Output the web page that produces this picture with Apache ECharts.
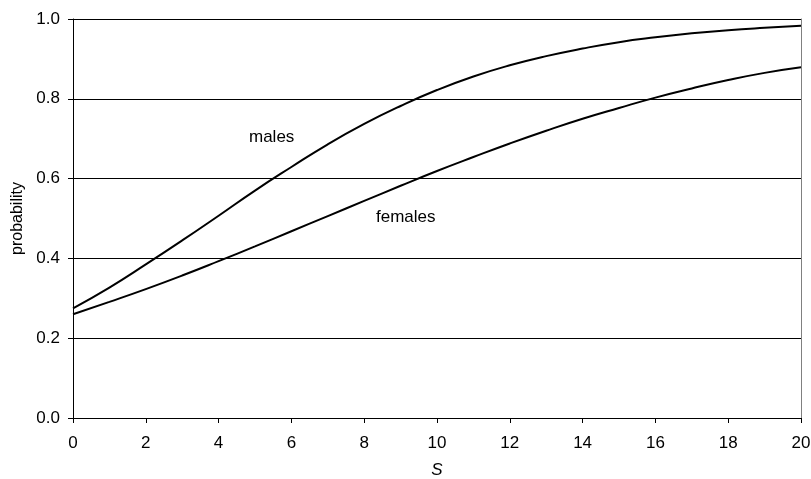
<!DOCTYPE html>
<html>
<head>
<meta charset="utf-8">
<script src="https://cdn.jsdelivr.net/npm/echarts@6/dist/echarts.min.js"></script>
<style>html,body{margin:0;padding:0;background:#fff}#c{width:811px;height:479px}</style>
</head>
<body>
<div id="c"></div>
<script>
var sValues = [0,1,2,3,4,5,6,7,8,9,10,11,12,13,14,15,16,17,18,19,20];
var males = [0.275,0.327,0.385,0.445,0.507,0.570,0.629,0.686,0.737,0.782,0.822,0.856,0.884,0.907,0.926,0.942,0.954,0.964,0.972,0.978,0.983];
var females = [0.260,0.291,0.323,0.357,0.393,0.430,0.468,0.506,0.544,0.582,0.619,0.654,0.688,0.720,0.750,0.777,0.803,0.826,0.847,0.865,0.879];
var xTicks = [0,2,4,6,8,10,12,14,16,18,20];
var yTicks = [0.0,0.2,0.4,0.6,0.8,1.0];

function pairs(ys){ return sValues.map(function(x,i){ return [x, ys[i]]; }); }

var chart = echarts.init(document.getElementById('c'), null, {renderer:'canvas'});
var font = 'Liberation Sans, Arial, sans-serif';
chart.setOption({
  animation:false,
  backgroundColor:'#fff',
  grid:{left:73, right:10, top:19, bottom:61, containLabel:false, outerBoundsMode:'none'},
  xAxis:{
    type:'value', min:xTicks[0], max:xTicks[xTicks.length-1], interval:2,
    name:'S', nameLocation:'middle', nameGap:44,
    nameTextStyle:{fontFamily:font, fontSize:17, fontStyle:'italic', color:'#000'},
    axisLine:{lineStyle:{color:'#000', width:1}},
    axisTick:{show:true, length:5, lineStyle:{color:'#000'}},
    axisLabel:{fontFamily:font, fontSize:17, color:'#000', margin:17},
    splitLine:{show:false}
  },
  yAxis:[{
    type:'value', min:yTicks[0], max:yTicks[yTicks.length-1], interval:0.2,
    name:'probability', nameLocation:'middle', nameGap:46,
    nameTextStyle:{fontFamily:font, fontSize:16, color:'#000'},
    axisLine:{show:true, lineStyle:{color:'#000', width:1}},
    axisTick:{show:true, length:5, lineStyle:{color:'#000'}},
    axisLabel:{fontFamily:font, fontSize:17, color:'#000', margin:13, formatter:function(v){return v.toFixed(1);}},
    splitLine:{show:true, lineStyle:{color:'#000', width:1}}
  },{
    type:'value', min:0, max:1, position:'right',
    axisLine:{show:true, lineStyle:{color:'#808080', width:1}},
    axisTick:{show:false}, axisLabel:{show:false}, splitLine:{show:false}
  }],
  series:[
    {type:'line', name:'males', data:pairs(males), smooth:true, showSymbol:false,
     lineStyle:{color:'#000', width:2}},
    {type:'line', name:'females', data:pairs(females), smooth:true, showSymbol:false,
     lineStyle:{color:'#000', width:2}}
  ],
  graphic:[
    {type:'text', left:249, top:129, style:{text:'males', fontFamily:font, fontSize:17, fill:'#000'}},
    {type:'text', left:376, top:209, style:{text:'females', fontFamily:font, fontSize:17, fill:'#000'}}
  ]
});
</script>
</body>
</html>
